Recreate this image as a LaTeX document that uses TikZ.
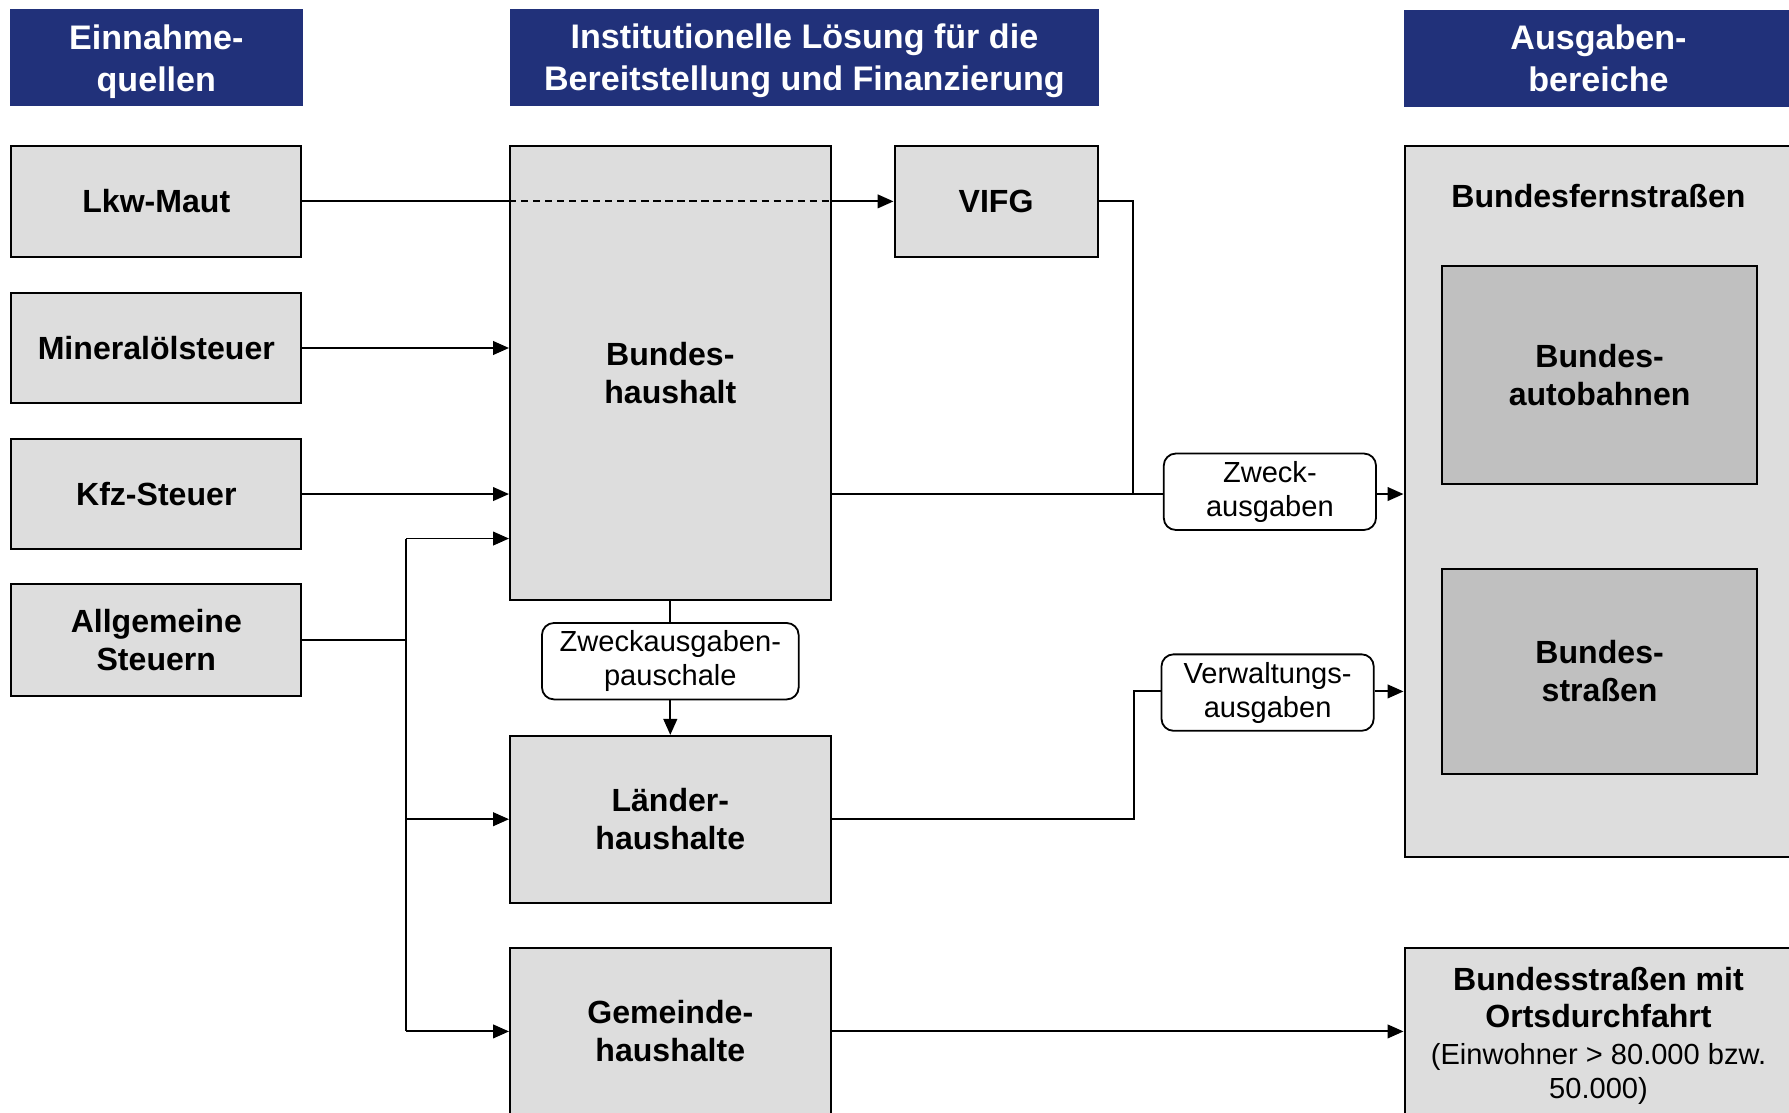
\documentclass[tikz,border=0pt]{standalone}
\usepackage{fontspec}
\setmainfont{Liberation Sans}
\usetikzlibrary{arrows.meta,calc}
\definecolor{hdrblue}{HTML}{21317A}
\definecolor{boxgrey}{HTML}{DDDDDD}
\definecolor{innergrey}{HTML}{C0C0C0}
\begin{document}
\begin{tikzpicture}[x=0.02cm,y=-0.02cm,
  hdr/.style={rectangle,fill=hdrblue,draw=hdrblue,text=white,align=center,inner sep=0pt,
    font=\fontsize{17}{21}\selectfont\bfseries},
  gbox/.style={rectangle,fill=boxgrey,draw=black,line width=1pt,align=center,inner sep=0pt,
    font=\fontsize{16}{19}\selectfont\bfseries},
  ibox/.style={gbox,fill=innergrey},
  lbl/.style={rectangle,rounded corners=6pt,fill=white,draw=black,line width=0.9pt,align=center,inner sep=0pt,
    font=\fontsize{14.5}{17}\selectfont},
  conn/.style={line width=0.95pt},
  arr/.style={conn,-{Triangle[length=0.28cm,width=0.24cm]}},
  sz/.style n args={2}{minimum width=#1*0.02cm,minimum height=#2*0.02cm}
]
\useasboundingbox[fill=white] (0,0) rectangle (1568,975);

% headers
\node[hdr,sz={256}{84}] (h1) at (137,50) {};
\node[font=\fontsize{17}{21}\selectfont\bfseries,text=white,align=center] (h1t) at (137,54) {Einnahme-\\quellen};
\node[hdr,sz={516}{84}] (h2) at (705,50) {};
\node[font=\fontsize{17}{21}\selectfont\bfseries,text=white,align=center] (h2t) at (705,53.5) {Institutionelle Lösung für die\\Bereitstellung und Finanzierung};
\node[hdr,sz={340}{84}] (h3) at (1401,51) {Ausgaben-\\bereiche};

% left sources
\node[gbox,sz={254}{97}] (lkw) at (137,176.5) {Lkw-Maut};
\node[gbox,sz={254}{97}] (min) at (137,305) {Mineralölsteuer};
\node[gbox,sz={254}{97}] (kfz) at (137,433) {Kfz-Steuer};
\node[gbox,sz={254}{98}] (allg) at (137,561) {Allgemeine\\Steuern};

% middle
\node[gbox,sz={281}{398}] (bund) at (587.5,327) {Bundes-\\haushalt};
\node[gbox,sz={178}{97}] (vifg) at (873,176.5) {VIFG};
\node[lbl,sz={225}{67}] (pausch) at (587.5,579.5) {Zweckausgaben-\\pauschale};
\node[gbox,sz={281}{146}] (laender) at (587.5,718) {Länder-\\haushalte};
\node[gbox,sz={281}{146}] (gemeinde) at (587.5,904) {Gemeinde-\\haushalte};

% right
\node[gbox,sz={340}{623}] (bfs) at (1401,439.5) {};
\node[font=\fontsize{16}{19}\selectfont\bfseries] (bfslabel) at (1401,172) {Bundesfernstraßen};
\node[ibox,sz={276}{191}] (bab) at (1402,328.5) {Bundes-\\autobahnen};
\node[ibox,sz={276}{179}] (bs) at (1402,588.5) {Bundes-\\straßen};
\node[gbox,sz={340}{146},font=\fontsize{14.5}{16}\selectfont] (bsod) at (1401,904) {};
\node[font=\fontsize{14.5}{16}\selectfont,align=center] (bsodt) at (1401,908)
  {{\fontsize{16}{19}\selectfont\bfseries Bundesstraßen mit}\\[2.5pt]{\fontsize{16}{19}\selectfont\bfseries Ortsdurchfahrt}\\[2.5pt](Einwohner > 80.000 bzw.\\[1pt]50.000)};

% labels on connectors
\node[lbl,sz={186}{67}] (zweck) at (1113,431) {Zweck-\\ausgaben};
\node[lbl,sz={186}{67}] (verw) at (1111,607) {Verwaltungs-\\ausgaben};

% junction coordinates
\coordinate (a1) at (356,472);
\coordinate (a2) at (356,718);
\coordinate (a3) at (356,904);
\coordinate (vj) at (993,433);
\coordinate (lj) at (994,606);

% connectors
\draw[conn] (lkw.east) -- (lkw.east -| bund.west);
\draw[conn,dash pattern=on 3.6pt off 2.4pt] (lkw.east -| bund.west) -- (lkw.east -| bund.east);
\draw[arr] (lkw.east -| bund.east) -- (vifg.west);
\draw[arr] (min.east) -- (min.east -| bund.west);
\draw[arr] (kfz.east) -- (kfz.east -| bund.west);
\draw[conn] (allg.east) -- (allg.east -| a1);
\draw[conn] (a1) -- (a3);
\draw[arr] (a1) -- (a1 -| bund.west);
\draw[arr] (a2) -- (laender.west);
\draw[arr] (a3) -- (gemeinde.west);

\draw[conn] (vifg.east) -| (vj);
\draw[conn] (vj -| bund.east) -- (vj -| zweck.west);
\draw[arr] (vj -| zweck.east) -- (vj -| bfs.west);

\draw[conn] (bund.south) -- (pausch.north);
\draw[arr] (pausch.south) -- (laender.north);

\draw[conn] (laender.east) -| (lj) -- (lj -| verw.west);
\draw[arr] (lj -| verw.east) -- (lj -| bfs.west);

\draw[arr] (gemeinde.east) -- (bsod.west);
\end{tikzpicture}
\end{document}
